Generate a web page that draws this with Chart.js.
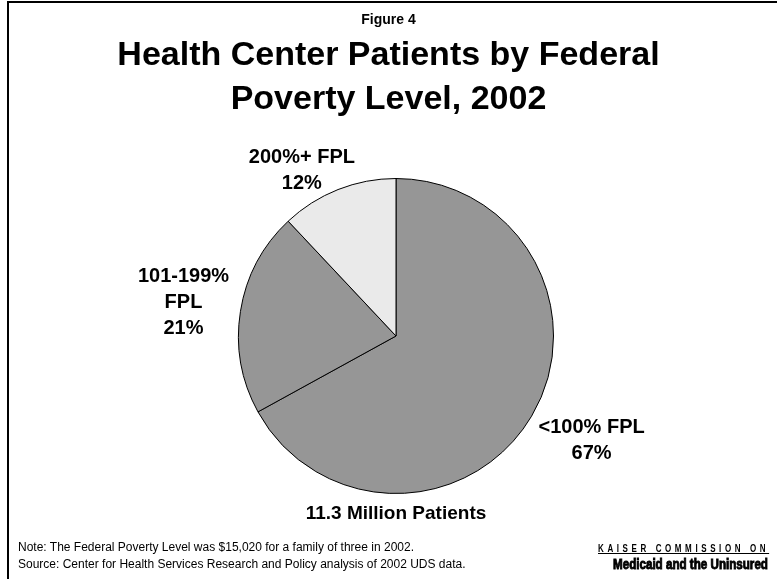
<!DOCTYPE html>
<html>
<head>
<meta charset="utf-8">
<script src="https://cdn.jsdelivr.net/npm/chart.js@4.4.1/dist/chart.umd.min.js"></script>
<style>
  html, body { margin: 0; padding: 0; background: #fff; }
  body { width: 777px; height: 579px; position: relative; overflow: hidden; font-family: "Liberation Sans", Arial, sans-serif; }
  #frame { position: absolute; left: 7px; top: 1px; right: -5px; bottom: -5px; border-left: 2px solid #000; border-top: 2px solid #000; }
  #wrap { position: absolute; left: 0; top: 0; width: 777px; height: 579px; }
  .t { position: absolute; color: #000; white-space: nowrap; }
  #fig { left: 0; width: 777px; top: 11px; text-align: center; font-weight: bold; font-size: 14px; }
  #title { left: 0; width: 777px; top: 31px; text-align: center; font-weight: bold; font-size: 34px; line-height: 44px; }
  #note { left: 18px; top: 539px; font-size: 12px; line-height: 17px; }
  #kaiser { left: 598px; top: 543px; font-weight: bold; font-size: 10px; letter-spacing: 4.5px; text-decoration: underline; transform: scaleX(0.8); transform-origin: 0 0; }
  #mu { left: 613px; top: 556px; font-weight: bold; font-size: 14px; -webkit-text-stroke: 0.9px #000; transform: scaleX(0.83); transform-origin: 0 0; }
</style>
</head>
<body>
<div id="frame"></div>
<div id="wrap"><canvas id="pieChart" width="777" height="579"></canvas></div>
<div class="t" id="fig">Figure 4</div>
<div class="t" id="title">Health Center Patients by Federal<br>Poverty Level, 2002</div>
<div class="t" id="note">Note: The Federal Poverty Level was $15,020 for a family of three in 2002.<br>Source: Center for Health Services Research and Policy analysis of 2002 UDS data.</div>
<div class="t" id="kaiser">KAISER COMMISSION ON</div>
<div class="t" id="mu">Medicaid and the Uninsured</div>
<script>
const categories = ['<100% FPL', '101-199% FPL', '200%+ FPL'];
const shares = [67, 21, 12];
const labelLines = [['<100% FPL', '67%'], ['101-199%', 'FPL', '21%'], ['200%+ FPL', '12%']];
const sliceColors = ['#969696', '#969696', '#eaeaea'];
const totalLabel = '11.3 Million Patients';

// label distance from centre (x radius) and angle nudge in degrees
const labelDist = [1.408, 1.366, 1.21];
const labelAngleShift = [-2.5, 0, -8];

const pieLabels = {
    id: 'pieLabels',
    afterDraw(chart) {
        const ctx = chart.ctx;
        const arcs = chart.getDatasetMeta(0).data;
        ctx.save();
        ctx.fillStyle = '#000';
        ctx.font = 'bold 20px "Liberation Sans", Arial, sans-serif';
        ctx.textAlign = 'center';
        ctx.textBaseline = 'middle';
        const lh = 26;
        arcs.forEach((arc, i) => {
            const mid = (arc.startAngle + arc.endAngle) / 2 + labelAngleShift[i] * Math.PI / 180;
            const r = arc.outerRadius * labelDist[i];
            const x = arc.x + Math.cos(mid) * r;
            const y = arc.y + Math.sin(mid) * r;
            const lines = labelLines[i];
            lines.forEach((ln, k) => {
                ctx.fillText(ln, x, y + (k - (lines.length - 1) / 2) * lh);
            });
        });
        const a0 = arcs[0];
        ctx.font = 'bold 19px "Liberation Sans", Arial, sans-serif';
        ctx.fillText(totalLabel, a0.x, a0.y + a0.outerRadius + 20);
        ctx.restore();
    }
};

new Chart(document.getElementById('pieChart').getContext('2d'), {
    type: 'pie',
    data: {
        labels: categories,
        datasets: [{
            data: shares,
            backgroundColor: sliceColors,
            borderColor: '#000',
            borderWidth: 1
        }]
    },
    options: {
        responsive: false,
        animation: false,
        layout: { padding: { left: 238, right: 223, top: 178, bottom: 85 } },
        plugins: { legend: { display: false }, tooltip: { enabled: false } }
    },
    plugins: [pieLabels]
});
</script>
</body>
</html>
